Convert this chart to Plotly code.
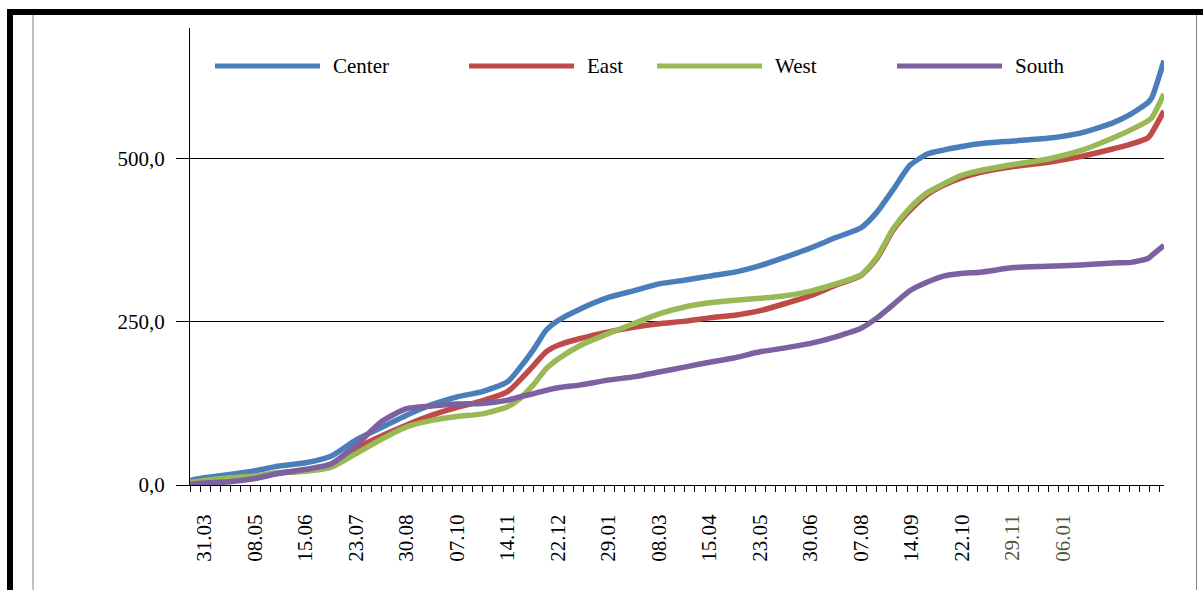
import plotly.graph_objects as go

# Observation dates (daily axis, values sampled along the curves)
dates = [
    "2009-03-20", "2009-03-31", "2009-04-19", "2009-05-08", "2009-05-26",
    "2009-06-15", "2009-07-04", "2009-07-23", "2009-08-11", "2009-08-30",
    "2009-09-18", "2009-10-07", "2009-10-26", "2009-11-14", "2009-11-23",
    "2009-12-04", "2009-12-13", "2009-12-22", "2010-01-07", "2010-01-30",
    "2010-02-18", "2010-03-08", "2010-03-28", "2010-04-15", "2010-05-04",
    "2010-05-23", "2010-06-11", "2010-06-30", "2010-07-19", "2010-08-07",
    "2010-08-19", "2010-08-31", "2010-09-13", "2010-09-26", "2010-10-08",
    "2010-10-21", "2010-11-05", "2010-11-30", "2010-12-25", "2011-01-19",
    "2011-02-13", "2011-02-26", "2011-03-11", "2011-03-14", "2011-03-23",
]

center = [7, 11, 16, 22, 29, 34, 44, 69, 88, 107,
          123, 135, 143, 158, 179, 209, 237, 252, 269, 288,
          298, 308, 314, 320, 326, 336, 349, 363, 379, 394,
          418, 452, 490, 507, 513, 518, 523, 527, 531, 539,
          555, 568, 586, 594, 650]

east = [2, 5, 9, 13, 18, 22, 31, 56, 75, 92,
        107, 119, 129, 143, 160, 184, 204, 214, 224, 235,
        242, 247, 251, 256, 260, 267, 278, 290, 306, 321,
        347, 390, 421, 445, 459, 470, 479, 488, 494, 503,
        515, 522, 532, 540, 573]

west = [4, 7, 11, 14, 19, 21, 27, 48, 70, 89,
        99, 105, 109, 120, 132, 155, 178, 193, 213, 233,
        248, 262, 273, 279, 283, 286, 290, 297, 308, 322,
        349, 392, 425, 448, 461, 474, 482, 491, 499, 512,
        532, 544, 558, 563, 599]

south = [1, 3, 5, 10, 18, 24, 32, 61, 97, 117,
         121, 124, 125, 130, 135, 140, 145, 149, 153, 161,
         166, 173, 181, 188, 195, 204, 210, 217, 227, 240,
         256, 276, 298, 311, 320, 324, 326, 333, 335, 337,
         340, 341, 347, 352, 367]

series_names = ["Center", "East", "West", "South"]
series_values = [center, east, west, south]
series_colors = ["#4A7EBB", "#BE4B48", "#98B954", "#7D60A0"]

# Labelled dates on the category axis
tick_dates = [
    "2009-03-31", "2009-05-08", "2009-06-15", "2009-07-23", "2009-08-30",
    "2009-10-07", "2009-11-14", "2009-12-22", "2010-01-29", "2010-03-08",
    "2010-04-15", "2010-05-23", "2010-06-30", "2010-08-07", "2010-09-14",
    "2010-10-22", "2010-11-29", "2011-01-06",
]
tick_labels = [
    "31.03", "08.05", "15.06", "23.07", "30.08", "07.10", "14.11", "22.12",
    "29.01", "08.03", "15.04", "23.05", "30.06", "07.08", "14.09", "22.10",
    "29.11", "06.01",
]
tick_colors = ["#000000"] * 16 + ["#55553A", "#55553A"]

FONT = "Liberation Serif"
FSIZE = 21

# Plot-area box in pixels, used to place frame and legend pieces
PL, PR, PT, PB = 190, 1164, 28, 485


def px(x):
    return (x - PL) / (PR - PL)


def py(y):
    return (PB - y) / (PB - PT)


fig = go.Figure()
for name, vals, color in zip(series_names, series_values, series_colors):
    fig.add_trace(go.Scatter(
        x=dates, y=vals, name=name, mode="lines",
        line=dict(color=color, width=5.5, shape="spline", smoothing=0.6),
        showlegend=False,
    ))

shapes = [
    # heavy black frame: top and left
    dict(type="rect", xref="paper", yref="paper", x0=px(7), x1=px(1210),
         y0=py(15), y1=py(9), fillcolor="black", line=dict(width=0)),
    dict(type="rect", xref="paper", yref="paper", x0=px(7), x1=px(13),
         y0=py(595), y1=py(9), fillcolor="black", line=dict(width=0)),
    # thin grey chart-area edges
    dict(type="line", xref="paper", yref="paper", x0=px(33), x1=px(33),
         y0=py(15), y1=py(595), line=dict(color="#808080", width=1)),
    dict(type="line", xref="paper", yref="paper", x0=px(1196.5), x1=px(1196.5),
         y0=py(15), y1=py(595), line=dict(color="#808080", width=1)),
]

annotations = []
legend_x = [215, 469, 657, 897]
LEG_LEN, LEG_GAP, LEG_Y = 105, 11, 66
for name, color, lx in zip(series_names, series_colors, legend_x):
    shapes.append(dict(type="line", xref="paper", yref="paper",
                       x0=px(lx), x1=px(lx + LEG_LEN), y0=py(LEG_Y), y1=py(LEG_Y),
                       line=dict(color=color, width=5)))
    annotations.append(dict(xref="paper", yref="paper", x=px(lx + LEG_LEN + LEG_GAP),
                            y=py(LEG_Y), text=name, showarrow=False,
                            xanchor="left", yanchor="middle",
                            font=dict(family=FONT, size=FSIZE, color="black")))

fig.update_layout(
    width=1203, height=590,
    margin=dict(l=PL, r=1203 - PR, t=PT, b=590 - PB),
    paper_bgcolor="white", plot_bgcolor="white",
    separators=", ",
    shapes=shapes, annotations=annotations,
    font=dict(family=FONT, size=FSIZE, color="black"),
    xaxis=dict(
        type="date", range=["2009-03-20", "2011-03-23"],
        tickmode="array", tickvals=tick_dates,
        ticktext=[f"<span style='color:{c}'>{t}</span>" for t, c in zip(tick_labels, tick_colors)],
        tickangle=-90, ticks="", ticklabelstandoff=20,
        tickfont=dict(family=FONT, size=FSIZE, color="black"),
        showline=True, linecolor="black", linewidth=1,
        showgrid=False, zeroline=False,
        minor=dict(ticks="outside", ticklen=6, tickcolor="black", tickwidth=1,
                   tick0="2009-03-20", dtick=7.6 * 86400000, showgrid=False),
    ),
    yaxis=dict(
        range=[0, 700], tick0=0, dtick=250, tickformat=".1f",
        ticks="outside", ticklen=13, tickcolor="black", tickwidth=1,
        ticklabelstandoff=7,
        tickfont=dict(family=FONT, size=FSIZE, color="black"),
        showline=True, linecolor="black", linewidth=1,
        showgrid=True, gridcolor="black", gridwidth=1, zeroline=False,
    ),
)

fig.write_html("out.html")
